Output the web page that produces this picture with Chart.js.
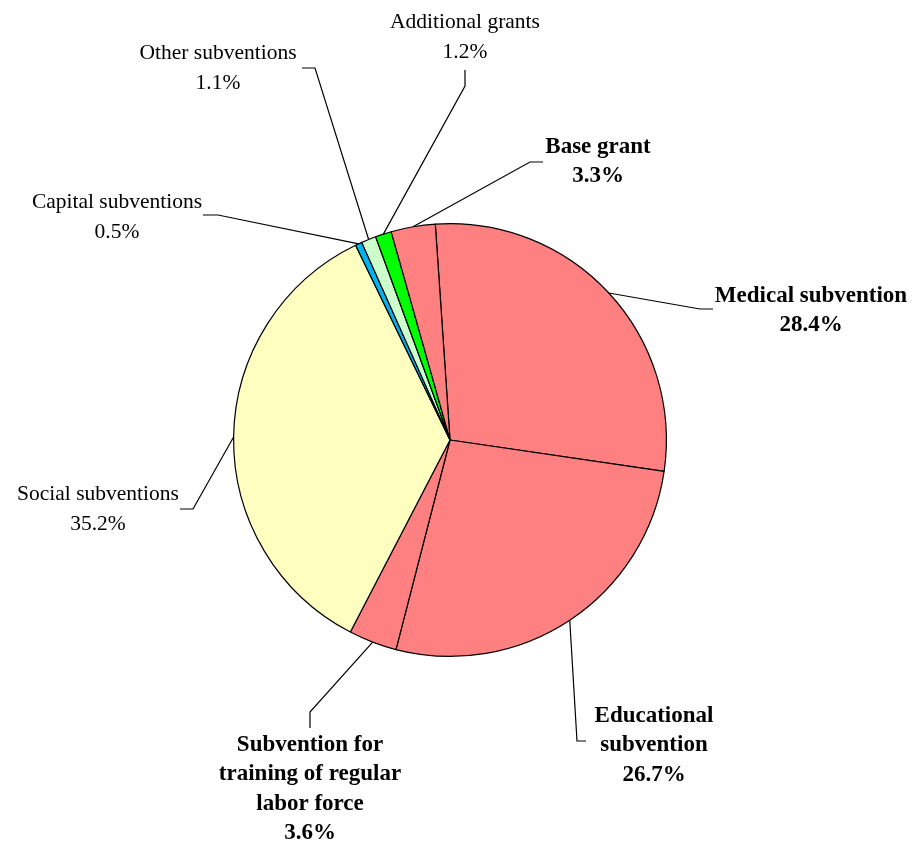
<!DOCTYPE html>
<html>
<head>
<meta charset="utf-8">
<script src="https://cdn.jsdelivr.net/npm/chart.js@4.4.0/dist/chart.umd.min.js"></script>
<style>
  html, body { margin: 0; padding: 0; background: #fff; }
  #wrap { width: 914px; height: 844px; position: relative; }
</style>
</head>
<body>
<div id="wrap"><canvas id="pieChart"></canvas></div>
<script>
// chart data, clockwise from the top
const categories = [
    "Medical subvention",
    "Educational subvention",
    "Subvention for training of regular labor force",
    "Social subventions",
    "Capital subventions",
    "Other subventions",
    "Additional grants",
    "Base grant"
];
const shares = [28.4, 26.7, 3.6, 35.2, 0.5, 1.1, 1.2, 3.3];

// label text lines for each slice
const labelLines = [
    ["Medical subvention"],
    ["Educational", "subvention"],
    ["Subvention for", "training of regular", "labor force"],
    ["Social subventions"],
    ["Capital subventions"],
    ["Other subventions"],
    ["Additional grants"],
    ["Base grant"]
];
const boldLabels = [true, true, true, false, false, false, false, true];

const sliceColors = ["#FF8080", "#FF8080", "#FF8080", "#FFFFC0", "#00B4F0", "#CCFFCC", "#00FF00", "#FF8080"];

// leader line elbow / end and text position, relative to the pie centre
const labelLayout = [
    { elbow: [250, -131], end: [263, -131], text: [361, -144] },
    { elbow: [127, 301],  end: [136, 301],  text: [204, 276] },
    { elbow: [-140, 272], end: [-140, 288], text: [-140, 305] },
    { elbow: [-257, 69],  end: [-270, 69],  text: [-352, 54] },
    { elbow: [-232, -225], end: [-247, -225], text: [-333, -238] },
    { elbow: [-135, -372], end: [-148, -372], text: [-232, -387] },
    { elbow: [15, -354],  end: [15, -370],  text: [15, -418] },
    { elbow: [80, -278],  end: [93, -278],  text: [148, -293] }
];

// draws leader lines and labels from each arc's mid angle
const leaderLabels = {
    id: 'leaderLabels',
    afterDatasetsDraw(chart) {
        const ctx = chart.ctx;
        const meta = chart.getDatasetMeta(0);
        ctx.save();
        meta.data.forEach((arc, i) => {
            const p = arc.getProps(['x', 'y', 'startAngle', 'endAngle', 'outerRadius'], true);
            const mid = (p.startAngle + p.endAngle) / 2;
            const ax = p.x + Math.cos(mid) * p.outerRadius;
            const ay = p.y + Math.sin(mid) * p.outerRadius;
            const lay = labelLayout[i];

            ctx.strokeStyle = '#000';
            ctx.lineWidth = 1.2;
            ctx.beginPath();
            ctx.moveTo(ax, ay);
            ctx.lineTo(p.x + lay.elbow[0], p.y + lay.elbow[1]);
            ctx.lineTo(p.x + lay.end[0], p.y + lay.end[1]);
            ctx.stroke();

            const lines = labelLines[i].concat([shares[i].toFixed(1) + '%']);
            const lh = boldLabels[i] ? 29.5 : 30.5;
            ctx.font = boldLabels[i]
                ? 'bold 23px "Liberation Serif", "Times New Roman", serif'
                : '21.5px "Liberation Serif", "Times New Roman", serif';
            ctx.fillStyle = '#000';
            ctx.textAlign = 'center';
            ctx.textBaseline = 'middle';
            lines.forEach((t, k) => {
                ctx.fillText(t, p.x + lay.text[0], p.y + lay.text[1] + k * lh);
            });
        });
        ctx.restore();
    }
};

new Chart(document.getElementById('pieChart'), {
    type: 'pie',
    data: {
        labels: categories,
        datasets: [{
            data: shares,
            backgroundColor: sliceColors,
            borderColor: '#000',
            borderWidth: 1.2
        }]
    },
    options: {
        responsive: true,
        maintainAspectRatio: false,
        animation: false,
        rotation: -3.9,
        layout: { padding: { left: 233, right: 247, top: 223, bottom: 187 } },
        plugins: {
            legend: { display: false },
            tooltip: { enabled: false }
        }
    },
    plugins: [leaderLabels]
});
</script>
</body>
</html>
